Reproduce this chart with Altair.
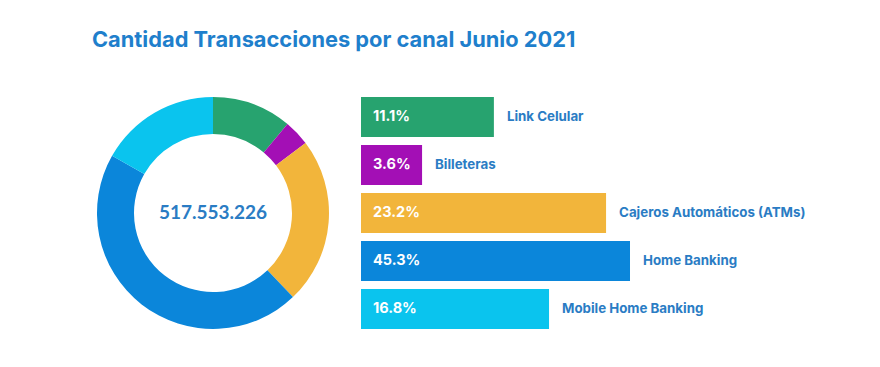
import altair as alt
import pandas as pd

categorias = ["Link Celular", "Billeteras", "Cajeros Automáticos (ATMs)", "Home Banking", "Mobile Home Banking"]
porcentajes = [11.1, 3.6, 23.2, 45.3, 16.8]
etiquetas = ["11.1%", "3.6%", "23.2%", "45.3%", "16.8%"]
# relative displayed bar lengths (as drawn in the original, Home Banking = 100)
largo_barra = [49.4, 22.7, 91.1, 100.0, 69.9]
colores = ["#27a36f", "#a30fb5", "#f2b53b", "#0b86da", "#0ac4ee"]
total = "517.553.226"
titulo = "Cantidad Transacciones por canal Junio 2021"

FONT = "Inter"
NUMFONT = "Lato"
AZUL = "#2a7cc4"

df = pd.DataFrame({
    "categoria": categorias,
    "porcentaje": porcentajes,
    "etiqueta": etiquetas,
    "largo": largo_barra,
    "orden": list(range(len(categorias))),
})

color = alt.Color("categoria:N", scale=alt.Scale(domain=categorias, range=colores), legend=None)

arc = alt.Chart(df).mark_arc(outerRadius=116, innerRadius=79).encode(
    theta=alt.Theta("porcentaje:Q", stack=True),
    order=alt.Order("orden:Q"),
    color=color,
)
center = alt.Chart(pd.DataFrame({"t": [total]})).mark_text(
    font=NUMFONT, fontSize=19, fontWeight="bold", color=AZUL, baseline="middle", align="center"
).encode(text="t:N", x=alt.value(121), y=alt.value(120))
donut = alt.layer(arc, center).properties(width=242, height=240)

ybar = alt.Y("categoria:N", sort=categorias, axis=None,
             scale=alt.Scale(paddingInner=0.17, paddingOuter=0.085))
xbar = alt.X("largo:Q", axis=None, scale=alt.Scale(domain=[0, 171]))

bars = alt.Chart(df).mark_bar().encode(y=ybar, x=xbar, color=color)
pct = alt.Chart(df).mark_text(
    align="left", baseline="middle", color="white", font=FONT, fontWeight="bold", fontSize=14.5
).encode(y=ybar, x=alt.value(12), text="etiqueta:N")
lab = alt.Chart(df).mark_text(
    align="left", baseline="middle", dx=13, color=AZUL, font=FONT, fontWeight="bold", fontSize=13.3
).encode(y=ybar, x=xbar, text="categoria:N")
barchart = alt.layer(bars, pct, lab).properties(width=460, height=240)

chart = alt.hconcat(donut, barchart, spacing=27).properties(
    title=alt.Title(titulo, anchor="start", fontSize=21.8, font=FONT, fontWeight="bold",
                    color="#1f7fcc", offset=41),
    padding={"left": 84, "top": 22, "right": 0, "bottom": 0},
).configure_view(stroke=None)

chart.save("out.html", embed_options={"renderer": "svg", "actions": False})
